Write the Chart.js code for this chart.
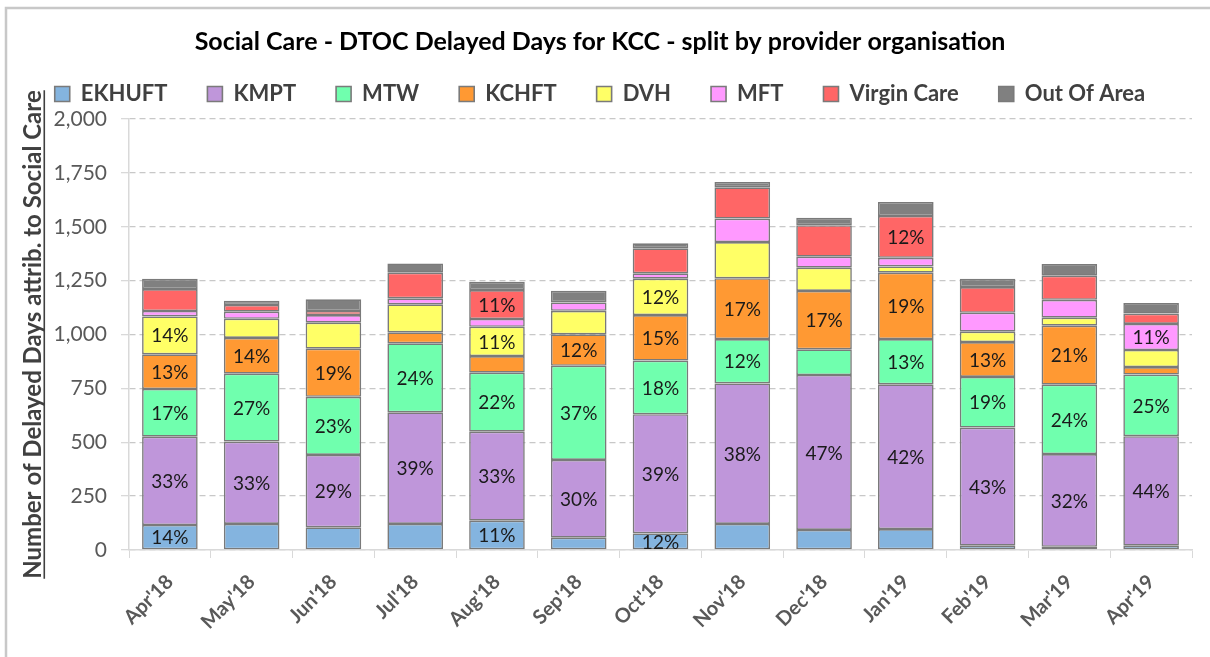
<!DOCTYPE html>
<html>
<head>
<meta charset="utf-8">
<script src="https://cdn.jsdelivr.net/npm/chart.js@4"></script>
<style>
  body { margin: 0; background: #fff; }
  #wrap { width: 1210px; height: 657px; }
</style>
</head>
<body>
<div id="wrap"><canvas id="chart" width="1210" height="657"></canvas></div>
<script>
const months = ["Apr'18", "May'18", "Jun'18", "Jul'18", "Aug'18", "Sep'18", "Oct'18", "Nov'18", "Dec'18", "Jan'19", "Feb'19", "Mar'19", "Apr'19"];

// delayed days per provider
const ekhuft    = [116, 121, 105, 121, 136,  57,  77, 121,  93,  97,  20,  15,  20];
const kmpt      = [410, 382, 336, 518, 413, 361, 553, 652, 719, 672, 548, 430, 508];
const mtw       = [221, 315, 270, 320, 274, 437, 249, 206, 119, 210, 235, 322, 286];
const kchft     = [161, 166, 223,  51,  77, 146, 211, 282, 271, 308, 162, 274,  35];
const dvh       = [176,  89, 121, 130, 136, 109, 169, 168, 108,  29,  48,  37,  79];
const mft       = [ 25,  33,  35,  28,  36,  39,  25, 109,  51,  40,  88,  83, 121];
const virgin    = [102,  31,  19, 119, 134,   0, 116, 145, 146, 194, 119, 112,  48];
const outOfArea = [ 48,  20,  54,  43,  39,  54,  23,  25,  35,  65,  39,  54,  49];

// percentage labels as printed on the chart (null = no label)
const ekhuftPct = [14, null, null, null, 11, null, 12, null, null, null, null, null, null];
const kmptPct   = [33, 33, 29, 39, 33, 30, 39, 38, 47, 42, 43, 32, 44];
const mtwPct    = [17, 27, 23, 24, 22, 37, 18, 12, null, 13, 19, 24, 25];
const kchftPct  = [13, 14, 19, null, null, 12, 15, 17, 17, 19, 13, 21, null];
const dvhPct    = [14, null, null, null, 11, null, 12, null, null, null, null, null, null];
const mftPct    = [null, null, null, null, null, null, null, null, null, null, null, null, 11];
const virginPct = [null, null, null, null, 11, null, null, null, null, 12, null, null, null];
const ooaPct    = [null, null, null, null, null, null, null, null, null, null, null, null, null];

const FONT = 'Lato, "Open Sans", sans-serif';

function series(label, data, pct, color) {
    return {
        label: label, data: data, pct: pct,
        backgroundColor: color, borderColor: '#7a7a7a', borderWidth: 1.6, borderSkipped: false,
        categoryPercentage: 1, barPercentage: 0.68
    };
}

// white background + the frame line at top / left
const frame = {
    id: 'frame',
    beforeDraw(chart) {
        const ctx = chart.ctx;
        ctx.save();
        ctx.fillStyle = '#fff';
        ctx.fillRect(0, 0, chart.width, chart.height);
        ctx.strokeStyle = '#c8c8c8';
        ctx.lineWidth = 2.5;
        ctx.beginPath();
        ctx.moveTo(6, chart.height);
        ctx.lineTo(6, 8);
        ctx.lineTo(chart.width, 8);
        ctx.stroke();
        ctx.restore();
    }
};

// nudge the legend row up a little, closer to the title
const legendNudge = {
    id: 'legendNudge',
    afterLayout(chart) {
        if (!chart.legend) return;
        chart.legend.top -= 4;
        chart.legend.bottom -= 4;
    }
};

// % labels in the middle of each segment
const pctLabels = {
    id: 'pctLabels',
    afterDatasetsDraw(chart) {
        const ctx = chart.ctx;
        ctx.save();
        ctx.font = '19px ' + FONT;
        ctx.fillStyle = '#1a1a1a';
        ctx.textAlign = 'center';
        ctx.textBaseline = 'middle';
        chart.data.datasets.forEach((ds, i) => {
            const meta = chart.getDatasetMeta(i);
            ds.pct.forEach((p, j) => {
                if (p == null) return;
                const bar = meta.data[j];
                ctx.fillText(p + '%', bar.x, (bar.y + bar.base) / 2 + 1);
            });
        });
        ctx.restore();
    }
};

// underline under the (rotated) y axis title
const underline = {
    id: 'underline',
    afterDraw(chart) {
        const y = chart.scales.y;
        const t = y.options.title;
        const ctx = chart.ctx;
        ctx.save();
        ctx.font = 'bold ' + t.font.size + 'px ' + FONT;
        const w = ctx.measureText(t.text).width;
        const cy = (y.top + y.bottom) / 2;
        const x = y.left + t.padding.top + t.font.size * 1.2 / 2 + t.font.size * 0.47;
        ctx.strokeStyle = '#404040';
        ctx.lineWidth = 1.6;
        ctx.beginPath();
        ctx.moveTo(x, cy - w / 2);
        ctx.lineTo(x, cy + w / 2);
        ctx.stroke();
        ctx.restore();
    }
};

const ctx = document.getElementById('chart').getContext('2d');
new Chart(ctx, {
    type: 'bar',
    data: {
        labels: months,
        datasets: [
            series('EKHUFT', ekhuft, ekhuftPct, '#84b4df'),
            series('KMPT', kmpt, kmptPct, '#bf96da'),
            series('MTW', mtw, mtwPct, '#70ffae'),
            series('KCHFT', kchft, kchftPct, '#ff9933'),
            series('DVH', dvh, dvhPct, '#ffff66'),
            series('MFT', mft, mftPct, '#ff99ff'),
            series('Virgin Care', virgin, virginPct, '#ff6666'),
            series('Out Of Area', outOfArea, ooaPct, '#808080')
        ]
    },
    options: {
        responsive: false,
        animation: false,
        devicePixelRatio: 1,
        layout: { padding: { top: 8, left: 8, right: 18, bottom: 0 } },
        plugins: {
            title: {
                display: true,
                text: 'Social Care - DTOC Delayed Days for KCC - split by provider organisation',
                color: '#000',
                font: { family: FONT, size: 25, weight: 'bold' },
                padding: { top: 19, bottom: -10 }
            },
            legend: {
                display: true,
                labels: {
                    color: '#404040',
                    font: { family: FONT, size: 22, weight: 'bold' },
                    boxWidth: 15, boxHeight: 15,
                    padding: 40
                }
            },
            tooltip: { enabled: false }
        },
        scales: {
            x: {
                stacked: true,
                afterFit: (scale) => { scale.height = 107; },
                grid: { drawOnChartArea: false, color: '#d9d9d9', tickLength: 8 },
                border: { color: '#d9d9d9', width: 1.5 },
                ticks: {
                    color: '#595959',
                    font: { family: FONT, size: 20, weight: 'bold' },
                    minRotation: 45, maxRotation: 45,
                    padding: 12
                }
            },
            y: {
                stacked: true,
                min: 0, max: 2000,
                // fixed axis width, and keep the plot top a little below the legend
                afterFit: (scale) => { scale.width = 121; scale.paddingTop = 119; },
                grid: { color: '#c8c8c8', lineWidth: 1.3, tickColor: '#d9d9d9', tickLength: 8 },
                border: { color: '#d9d9d9', width: 1.5, dash: [6, 4] },
                ticks: {
                    stepSize: 250,
                    color: '#595959',
                    font: { family: FONT, size: 21 },
                    padding: 14,
                    callback: (v) => v.toLocaleString('en-US')
                },
                title: {
                    display: true,
                    text: 'Number of Delayed Days attrib. to Social Care',
                    color: '#404040',
                    font: { family: FONT, size: 24, weight: 'bold' },
                    padding: { top: 10.6, bottom: 0 }
                }
            }
        }
    },
    plugins: [frame, legendNudge, pctLabels, underline]
});
</script>
</body>
</html>
